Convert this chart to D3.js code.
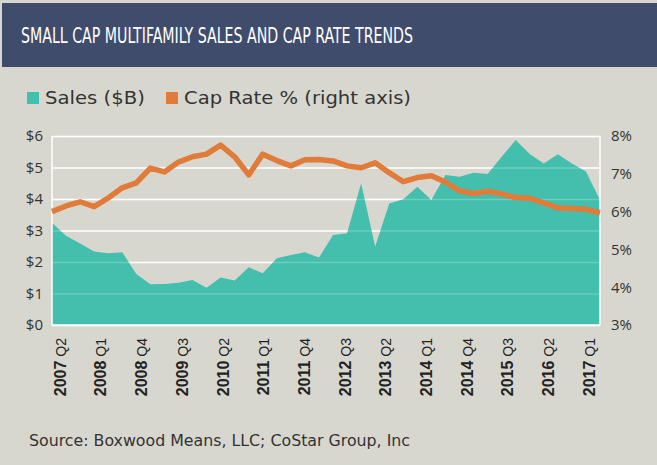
<!DOCTYPE html>
<html>
<head>
<meta charset="utf-8">
<script src="https://cdn.jsdelivr.net/npm/d3@7"></script>
<style>
  body { margin: 0; background: #d8d7cf; }
  svg { display: block; }
</style>
</head>
<body>
<svg id="chart"></svg>
<script>
// quarters 2007 Q2 .. 2017 Q1
var quarters = [
    "2007 Q2", "2007 Q3", "2007 Q4", "2008 Q1", "2008 Q2", "2008 Q3", "2008 Q4",
    "2009 Q1", "2009 Q2", "2009 Q3", "2009 Q4", "2010 Q1", "2010 Q2", "2010 Q3",
    "2010 Q4", "2011 Q1", "2011 Q2", "2011 Q3", "2011 Q4", "2012 Q1", "2012 Q2",
    "2012 Q3", "2012 Q4", "2013 Q1", "2013 Q2", "2013 Q3", "2013 Q4", "2014 Q1",
    "2014 Q2", "2014 Q3", "2014 Q4", "2015 Q1", "2015 Q2", "2015 Q3", "2015 Q4",
    "2016 Q1", "2016 Q2", "2016 Q3", "2016 Q4", "2017 Q1"
];

// sales, $B (left axis)
var sales = [
    3.25, 2.83, 2.59, 2.33, 2.28, 2.31, 1.62, 1.29, 1.30, 1.34,
    1.43, 1.18, 1.51, 1.41, 1.83, 1.64, 2.12, 2.22, 2.31, 2.14,
    2.86, 2.91, 4.50, 2.49, 3.86, 3.99, 4.39, 3.97, 4.76, 4.71,
    4.83, 4.79, 5.34, 5.87, 5.43, 5.13, 5.42, 5.13, 4.87, 3.97
];

// cap rate % (right axis)
var capRate = [
    6.00, 6.15, 6.26, 6.13, 6.36, 6.63, 6.76, 7.15, 7.05, 7.31,
    7.45, 7.52, 7.76, 7.45, 6.97, 7.52, 7.35, 7.21, 7.37, 7.38,
    7.34, 7.21, 7.16, 7.29, 7.03, 6.79, 6.90, 6.95, 6.78, 6.55,
    6.48, 6.54, 6.47, 6.37, 6.35, 6.23, 6.10, 6.08, 6.06, 5.97
];

var tickLabels = [
    "2007 Q2", "2008 Q1", "2008 Q4", "2009 Q3", "2010 Q2", "2011 Q1", "2011 Q4",
    "2012 Q3", "2013 Q2", "2014 Q1", "2014 Q4", "2015 Q3", "2016 Q2", "2017 Q1"
];
var salesTicks = [0, 1, 2, 3, 4, 5, 6];
var rateTicks = [3, 4, 5, 6, 7, 8];

var size = { width: 657, height: 465 };
var plot = { left: 52, right: 600, top: 136, bottom: 325 };
var colors = {
    bg: "#d8d7cf",
    banner: "#404c6b",
    teal: "#44bfad",
    orange: "#e07b39",
    text: "#333333"
};

var svg = d3.select("#chart")
    .attr("width", size.width)
    .attr("height", size.height);

svg.append("rect")
    .attr("width", size.width)
    .attr("height", size.height)
    .attr("fill", colors.bg);

// title banner
svg.append("rect")
    .attr("x", 2).attr("y", 3)
    .attr("width", size.width - 2).attr("height", 64)
    .attr("fill", colors.banner);

svg.append("text")
    .attr("x", 21).attr("y", 43)
    .attr("fill", "white")
    .style("font-family", "'Liberation Sans Narrow', 'DejaVu Sans Condensed', sans-serif")
    .style("font-size", "22px")
    .attr("textLength", 392)
    .attr("lengthAdjust", "spacingAndGlyphs")
    .text("SMALL CAP MULTIFAMILY SALES AND CAP RATE TRENDS");

// legend
var legend = [
    { label: "Sales ($B)", color: colors.teal, x: 27, w: 100 },
    { label: "Cap Rate % (right axis)", color: colors.orange, x: 166, w: 227 }
];
legend.forEach(function(d) {
    svg.append("rect")
        .attr("x", d.x).attr("y", 92)
        .attr("width", 12).attr("height", 12)
        .attr("fill", d.color);
    svg.append("text")
        .attr("x", d.x + 18).attr("y", 104)
        .attr("fill", colors.text)
        .style("font-family", "'DejaVu Sans', sans-serif")
        .style("font-size", "18px")
        .attr("textLength", d.w)
        .attr("lengthAdjust", "spacingAndGlyphs")
        .text(d.label);
});

// scales
var x = d3.scalePoint()
    .domain(quarters)
    .range([plot.left, plot.right]);

var xLabels = d3.scalePoint()
    .domain(tickLabels)
    .range([60, 589]);

var y = d3.scaleLinear()
    .domain([0, 6])
    .range([plot.bottom, plot.top]);

var y2 = d3.scaleLinear()
    .domain([3, 8])
    .range([plot.bottom, plot.top]);

// gridlines under the area
function grid(g, opacity) {
    g.attr("transform", "translate(" + plot.left + ",0)")
        .call(d3.axisLeft(y).tickValues(salesTicks).tickSize(-(plot.right - plot.left)).tickFormat(""))
        .call(function(s) { s.select(".domain").remove(); })
        .selectAll("line")
        .attr("stroke", "white")
        .attr("stroke-width", 1.5)
        .attr("stroke-opacity", opacity);
}
svg.append("g").call(grid, 1);

// sales area
var area = d3.area()
    .x(function(d, i) { return x(quarters[i]); })
    .y0(y(0))
    .y1(function(d) { return y(d); });

svg.append("path")
    .datum(sales)
    .attr("d", area)
    .attr("fill", colors.teal);

// faint gridlines across the area
svg.append("g").call(grid, 0.22);

// plot frame: left, right, bottom
var frame = [
    [plot.left, plot.top, plot.left, plot.bottom],
    [plot.right, plot.top, plot.right, plot.bottom],
    [plot.left, plot.bottom, plot.right, plot.bottom]
];
svg.selectAll(".frame")
    .data(frame)
    .enter()
    .append("line")
    .attr("class", "frame")
    .attr("x1", function(d) { return d[0]; })
    .attr("y1", function(d) { return d[1]; })
    .attr("x2", function(d) { return d[2]; })
    .attr("y2", function(d) { return d[3]; })
    .attr("stroke", "white")
    .attr("stroke-width", 1.5);

// cap rate line
var line = d3.line()
    .x(function(d, i) { return x(quarters[i]); })
    .y(function(d) { return y2(d); });

svg.append("path")
    .datum(capRate)
    .attr("d", line)
    .attr("fill", "none")
    .attr("stroke", colors.orange)
    .attr("stroke-width", 5.5)
    .attr("stroke-linejoin", "round");

// left axis
var tickFont = "'Open Sans', sans-serif";
svg.append("g")
    .attr("transform", "translate(" + plot.left + ",0)")
    .call(d3.axisLeft(y).tickValues(salesTicks).tickSize(0).tickPadding(9)
        .tickFormat(function(d) { return "$" + d; }))
    .call(function(g) { g.select(".domain").remove(); })
    .selectAll("text")
    .attr("fill", colors.text)
    .style("font-family", tickFont)
    .style("font-size", "15px");

// right axis
svg.append("g")
    .attr("transform", "translate(" + plot.right + ",0)")
    .call(d3.axisRight(y2).tickValues(rateTicks).tickSize(0).tickPadding(11)
        .tickFormat(function(d) { return d + "%"; }))
    .call(function(g) { g.select(".domain").remove(); })
    .selectAll("text")
    .attr("fill", colors.text)
    .style("font-family", tickFont)
    .style("font-size", "15px");

// x labels, rotated, bold year + quarter
var xl = svg.selectAll(".xlabel")
    .data(tickLabels)
    .enter()
    .append("text")
    .attr("class", "xlabel")
    .attr("transform", function(d) { return "translate(" + xLabels(d) + ",338) rotate(-90)"; })
    .attr("text-anchor", "end")
    .attr("dy", "0.36em")
    .attr("fill", "#222")
    .style("font-family", "'Liberation Sans', Arial, sans-serif");

xl.append("tspan")
    .style("font-weight", "bold")
    .style("font-size", "16px")
    .text(function(d) { return d.split(" ")[0]; });
xl.append("tspan")
    .style("font-size", "14px")
    .text(function(d) { return " " + d.split(" ")[1]; });

// source note
svg.append("text")
    .attr("x", 29).attr("y", 446)
    .attr("fill", colors.text)
    .style("font-family", "'DejaVu Sans', sans-serif")
    .style("font-size", "15px")
    .attr("textLength", 381)
    .attr("lengthAdjust", "spacingAndGlyphs")
    .text("Source: Boxwood Means, LLC; CoStar Group, Inc");
</script>
</body>
</html>
